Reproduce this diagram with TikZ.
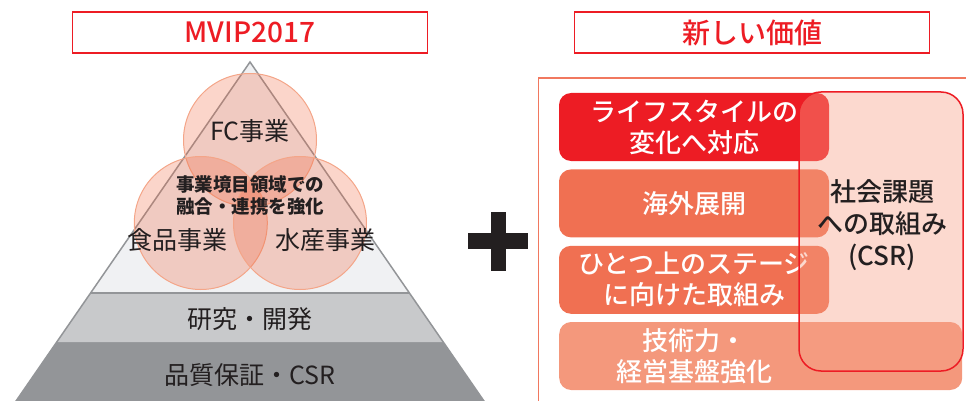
\documentclass[tikz,border=0pt]{standalone}
\usepackage{fontspec}
\setmainfont{Noto Sans CJK JP}
\newfontfamily\jpmedium{Noto Sans CJK JP Medium}
\usepackage{xcolor}
\usetikzlibrary{positioning}

\definecolor{mvred}{RGB}{237,28,36}
\definecolor{darktext}{RGB}{35,31,32}
\definecolor{pyrtop}{RGB}{240,241,243}
\definecolor{pyrmid}{RGB}{200,201,203}
\definecolor{pyrbase}{RGB}{147,149,152}
\definecolor{ringline}{RGB}{244,165,136}
\definecolor{ringfill}{RGB}{240,100,60}
\definecolor{framesalmon}{RGB}{241,120,95}
\definecolor{midsalmon}{RGB}{240,112,82}
\definecolor{lightsalmon}{RGB}{244,152,124}
\definecolor{csrfill}{RGB}{247,160,134}

\begin{document}
\begin{tikzpicture}[x=1pt, y=-1pt,
  titlebox/.style={draw=mvred, line width=1.6pt, fill=white, minimum width=355pt, minimum height=41pt,
    text=mvred, font=\fontsize{28}{30}\jpmedium},
  ring/.style={circle, draw=ringline, line width=1pt, fill=ringfill, fill opacity=0.27,
    minimum size=133pt, inner sep=0pt},
  pyrtext/.style={text=darktext, font=\fontsize{25}{28}\selectfont},
  valbox/.style={rounded corners=12pt, minimum width=270pt, minimum height=68pt, inner sep=0pt},
  valtext/.style={text=white, align=center, font=\fontsize{26}{31}\jpmedium},
  node distance=8pt]
\useasboundingbox (0,0) rectangle (966,401);

% Left side
\node[titlebox] (mvip) at (250,32.5) {MVIP2017};

\fill[pyrbase] (56.8,342) -- (443.2,342) -- (486.7,405) -- (13.3,405) -- cycle;
\fill[pyrmid] (90.6,293) -- (409.4,293) -- (443.2,342) -- (56.8,342) -- cycle;
\fill[pyrtop] (250,62) -- (409.4,293) -- (90.6,293) -- cycle;
\draw[pyrbase, line width=1.5pt] (13.3,405) -- (250,62) -- (486.7,405);
\draw[pyrbase, line width=1.5pt] (90.6,293) -- (409.4,293);

\node[ring] (fc) at (250,140) {};
\node[ring] (food) at (200.8,223) {};
\node[ring] (sea) at (300,223) {};

\node[pyrtext] (fclabel) at (250,131) {FC事業};
\node[pyrtext] (foodlabel) at (177,240) {食品事業};
\node[pyrtext] (sealabel) at (325,240) {水産事業};
\node[text=darktext, align=center, font=\fontsize{18.5}{22}\selectfont\bfseries] (merge) at (250,195)
  {事業境目領域での\\融合・連携を強化};
\node[pyrtext] (rnd) at (250,319) {研究・開発};
\node[pyrtext] (quality) at (250,375) {品質保証・CSR};

% Plus
\fill[darktext] (490.7,211.7) rectangle (505.7,271);
\fill[darktext] (468,233) rectangle (528,249);

% Right side
\node[titlebox] (newvalue) at (752,32.5) {新しい価値};
\draw[framesalmon, line width=1.5pt] (538.5,405) -- (538.5,78) -- (970,78);

\node[valbox, fill=mvred] (life) at (694,127) {};
\node[valbox, fill=midsalmon, below=of life] (global) {};
\node[valbox, fill=midsalmon, below=of global] (stage) {};
\node[valbox, fill=lightsalmon, minimum width=403pt, anchor=west] (base) at (559,356) {};

\node[valtext] at (life) {ライフスタイルの\\変化へ対応};
\node[valtext] at (global) {海外展開};
\node[valtext] at (stage) {ひとつ上のステージ\\に向けた取組み};
\node[valtext] at (stage |- base) {技術力・\\経営基盤強化};

% CSR overlay
\node[draw=mvred, line width=1.5pt, fill=csrfill, fill opacity=0.4, rounded corners=22pt,
  minimum width=164pt, minimum height=279pt] (csr) at (881,231.5) {};
\node[text=darktext, align=center, font=\fontsize{26}{32}\jpmedium] (csrtext) at (882,225)
  {社会課題\\への取組み\\(CSR)};
\end{tikzpicture}
\end{document}
